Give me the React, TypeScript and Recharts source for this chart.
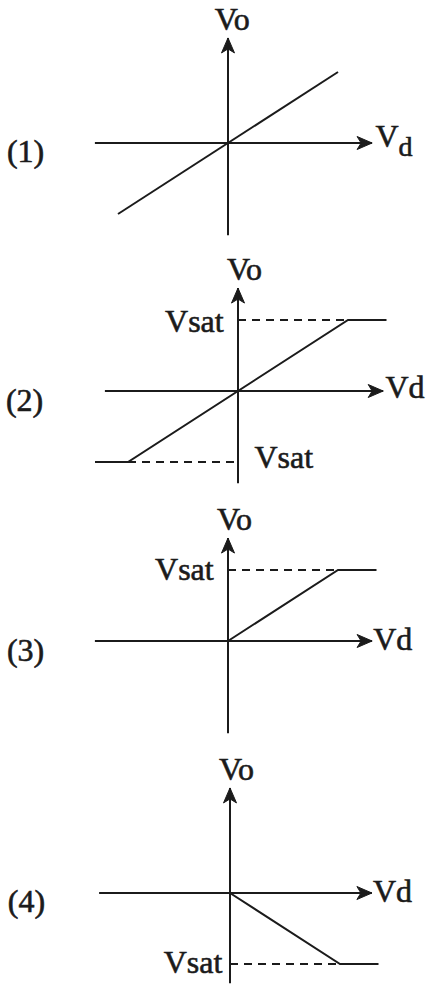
import { LineChart, Line, XAxis, YAxis, ReferenceDot } from "recharts";

const INK = "#1b1b1b";
const FONT = '"Liberation Serif", "Times New Roman", serif';

type Pt = { x: number; y: number };
type Lbl = { text: string; sub?: string; x: number; y: number; anchor?: "start" | "middle" | "end" };

// (1) linear, no saturation
const p1XAxis: Pt[] = [{ x: -1.21, y: 0 }, { x: 1.31, y: 0 }];
const p1YAxis: Pt[] = [{ x: 0, y: -1.3 }, { x: 0, y: 1.48 }];
const p1Curve: Pt[] = [{ x: -1, y: -1 }, { x: 1, y: 1 }];

// (2) linear with +/- saturation
const p2XAxis: Pt[] = [{ x: -1.21, y: 0 }, { x: 1.32, y: 0 }];
const p2YAxis: Pt[] = [{ x: 0, y: -1.3 }, { x: 0, y: 1.45 }];
const p2Curve: Pt[] = [{ x: -1.3, y: -1 }, { x: -1, y: -1 }, { x: 1, y: 1 }, { x: 1.35, y: 1 }];
const p2DashUp: Pt[] = [{ x: 0, y: 1 }, { x: 1, y: 1 }];
const p2DashDown: Pt[] = [{ x: -1, y: -1 }, { x: 0, y: -1 }];

// (3) positive half only
const p3XAxis: Pt[] = [{ x: -1.21, y: 0 }, { x: 1.31, y: 0 }];
const p3YAxis: Pt[] = [{ x: 0, y: -1.3 }, { x: 0, y: 1.45 }];
const p3Curve: Pt[] = [{ x: 0, y: 0 }, { x: 1, y: 1 }, { x: 1.35, y: 1 }];
const p3Dash: Pt[] = [{ x: 0, y: 1 }, { x: 1, y: 1 }];

// (4) inverted, positive input only
const p4XAxis: Pt[] = [{ x: -1.19, y: 0 }, { x: 1.29, y: 0 }];
const p4YAxis: Pt[] = [{ x: 0, y: -1.27 }, { x: 0, y: 1.48 }];
const p4Curve: Pt[] = [{ x: 0, y: 0 }, { x: 1, y: -1 }, { x: 1.35, y: -1 }];
const p4Dash: Pt[] = [{ x: 0, y: -1 }, { x: 1, y: -1 }];

const p1Labels: Lbl[] = [
  { text: "Vo", x: -0.12, y: 1.59 },
  { text: "V", sub: "d", x: 1.34, y: -0.06 },
  { text: "(1)", x: -1.84, y: -0.27, anchor: "middle" },
];
const p2Labels: Lbl[] = [
  { text: "Vo", x: -0.1, y: 1.56 },
  { text: "Vd", x: 1.34, y: -0.1 },
  { text: "Vsat", x: -0.13, y: 0.83, anchor: "end" },
  { text: "Vsat", x: 0.15, y: -1.08 },
  { text: "(2)", x: -1.94, y: -0.28, anchor: "middle" },
];
const p3Labels: Lbl[] = [
  { text: "Vo", x: -0.1, y: 1.56 },
  { text: "Vd", x: 1.32, y: -0.13 },
  { text: "Vsat", x: -0.13, y: 0.86, anchor: "end" },
  { text: "(3)", x: -1.84, y: -0.28, anchor: "middle" },
];
const p4Labels: Lbl[] = [
  { text: "Vo", x: -0.1, y: 1.59 },
  { text: "Vd", x: 1.3, y: -0.13 },
  { text: "Vsat", x: -0.07, y: -1.13, anchor: "end" },
  { text: "(4)", x: -1.85, y: -0.27, anchor: "middle" },
];

function arrowDot(dir: "up" | "right", last: number) {
  return (p: any) => {
    const k = `a-${dir}-${p.index}`;
    if (p.index !== last) return <g key={k} />;
    const { cx, cy } = p;
    const d =
      dir === "right"
        ? `M${cx},${cy} L${cx - 15},${cy - 6.5} L${cx - 11},${cy} L${cx - 15},${cy + 6.5} Z`
        : `M${cx},${cy} L${cx - 6.5},${cy + 15} L${cx},${cy + 11} L${cx + 6.5},${cy + 15} Z`;
    return <path key={k} d={d} fill={INK} stroke={INK} strokeWidth={1} />;
  };
}

function labelShape(l: Lbl) {
  return (p: any) => (
    <text
      x={p.cx}
      y={p.cy}
      textAnchor={l.anchor ?? "start"}
      fontFamily={FONT}
      fontSize={32}
      fill={INK}
      stroke={INK}
      strokeWidth={0.6}
    >
      <tspan>{l.text}</tspan>
      {l.sub && (
        <tspan dy={9} fontSize={28}>
          {l.sub}
        </tspan>
      )}
    </text>
  );
}

type PanelProps = {
  left: number;
  top: number;
  xAxis: Pt[];
  yAxis: Pt[];
  curve: Pt[];
  dashed: Pt[][];
  labels: Lbl[];
};

// 110 px per unit on x, 71 px per unit on y
function Panel({ left, top, xAxis, yAxis, curve, dashed, labels }: PanelProps) {
  return (
    <div style={{ position: "absolute", left, top }}>
      <LineChart width={462} height={284} margin={{ top: 0, right: 0, bottom: 0, left: 0 }}>
        <XAxis type="number" dataKey="x" domain={[-2.2, 2]} hide allowDataOverflow />
        <YAxis type="number" domain={[-2, 2]} hide allowDataOverflow />
        {dashed.map((seg, i) => (
          <Line
            key={"dash" + i}
            name={"dash" + i}
            data={seg}
            dataKey="y"
            stroke={INK}
            strokeWidth={1.8}
            strokeDasharray="8 6"
            dot={false}
            isAnimationActive={false}
          />
        ))}
        <Line
          name="xaxis"
          data={xAxis}
          dataKey="y"
          stroke={INK}
          strokeWidth={2}
          dot={arrowDot("right", xAxis.length - 1)}
          isAnimationActive={false}
        />
        <Line
          name="yaxis"
          data={yAxis}
          dataKey="y"
          stroke={INK}
          strokeWidth={2}
          dot={arrowDot("up", yAxis.length - 1)}
          isAnimationActive={false}
        />
        <Line
          name="curve"
          data={curve}
          dataKey="y"
          stroke={INK}
          strokeWidth={2}
          dot={false}
          isAnimationActive={false}
        />
        {labels.map((l, i) => (
          <ReferenceDot key={"l" + i} x={l.x} y={l.y} r={0} shape={labelShape(l)} />
        ))}
      </LineChart>
    </div>
  );
}

export default function App() {
  return (
    <div
      style={{
        position: "absolute",
        left: 0,
        top: 0,
        width: 429,
        height: 989,
        overflow: "hidden",
        background: "#fff",
      }}
    >
      <Panel left={-14} top={1} xAxis={p1XAxis} yAxis={p1YAxis} curve={p1Curve} dashed={[]} labels={p1Labels} />
      <Panel
        left={-4}
        top={249}
        xAxis={p2XAxis}
        yAxis={p2YAxis}
        curve={p2Curve}
        dashed={[p2DashUp, p2DashDown]}
        labels={p2Labels}
      />
      <Panel left={-14} top={499} xAxis={p3XAxis} yAxis={p3YAxis} curve={p3Curve} dashed={[p3Dash]} labels={p3Labels} />
      <Panel left={-12} top={751} xAxis={p4XAxis} yAxis={p4YAxis} curve={p4Curve} dashed={[p4Dash]} labels={p4Labels} />
    </div>
  );
}
